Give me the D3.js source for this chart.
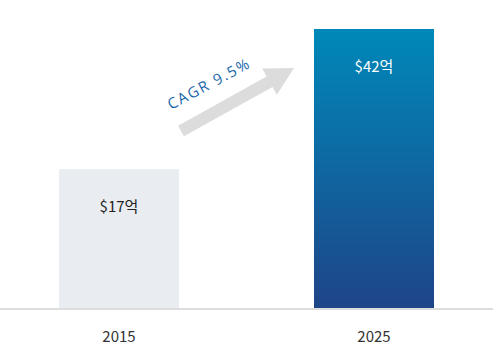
<!DOCTYPE html>
<html><head><meta charset="utf-8">
<script src="https://cdn.jsdelivr.net/npm/d3@7/dist/d3.min.js"></script>
<style>body{margin:0;background:#fff;} svg{display:block;font-family:"Noto Sans CJK KR","Noto Sans",sans-serif;}</style>
</head><body>
<svg id="c" width="493" height="345"></svg>
<script>
const categories = ["2015", "2025"];
const values = [17, 42];
const valueLabels = ["$17억", "$42억"];
const cagrLabel = "CAGR 9.5%";

const W = 493, H = 345;
const svg = d3.select("#c");
const x = d3.scaleBand().domain(categories).range([0, 493]).paddingInner(0.5294).paddingOuter(0.2314);
const y = d3.scaleLinear().domain([-7.8, 42]).range([308, 29]);

const defs = svg.append("defs");
const g = defs.append("linearGradient").attr("id","grad").attr("x1",0).attr("y1",0).attr("x2",0).attr("y2",1);
g.append("stop").attr("offset","0%").attr("stop-color","#0088b9");
g.append("stop").attr("offset","100%").attr("stop-color","#1e4588");

svg.selectAll("rect.bar").data(values).join("rect").attr("class","bar")
  .attr("x",(d,i)=>x(categories[i])).attr("width",x.bandwidth())
  .attr("y",d=>y(d)).attr("height",d=>y.range()[0]-y(d))
  .attr("fill",(d,i)=>i===0?"#e9edf2":"url(#grad)");

svg.append("line").attr("x1",0).attr("x2",W).attr("y1",309).attr("y2",309)
  .attr("stroke","#dddddd").attr("stroke-width",2);

svg.selectAll("text.val").data(values).join("text").attr("class","val")
  .attr("x",(d,i)=>x(categories[i])+x.bandwidth()/2)
  .attr("y",d=>y(d)+43)
  .attr("text-anchor","middle").attr("font-size",15)
  .attr("fill",(d,i)=>i===0?"#222":"#fff")
  .text((d,i)=>valueLabels[i]);

const xAxis = svg.append("g").attr("transform","translate(0,309)")
  .call(d3.axisBottom(x).tickSize(0).tickPadding(22));
xAxis.select(".domain").remove();
xAxis.selectAll("text").attr("font-size",15).attr("fill","#333")
  .attr("font-family",'"Noto Sans CJK KR","Noto Sans",sans-serif');

// arrow
const ax0 = 181, ay0 = 131, ax1 = 294, ay1 = 68;
const ang = Math.atan2(ay1-ay0, ax1-ax0)*180/Math.PI;
const len = Math.hypot(ax1-ax0, ay1-ay0);
const arr = svg.append("g").attr("transform",`translate(${ax0},${ay0}) rotate(${ang})`);
const sw = 6, hw = 15, hl = 28;
arr.append("path").attr("d",`M0,${-sw} L${len-hl},${-sw} L${len-hl},${-hw} L${len},0 L${len-hl},${hw} L${len-hl},${sw} L0,${sw} Z`)
  .attr("fill","#dcdcdc");

svg.append("text").attr("transform",`translate(171,110) rotate(${ang+1})`)
  .attr("font-size",15).attr("letter-spacing",1.7).attr("fill","#1a68aa")
  .attr("font-family",'"Open Sans","Noto Sans",sans-serif')
  .text(cagrLabel);
</script>
</body></html>
